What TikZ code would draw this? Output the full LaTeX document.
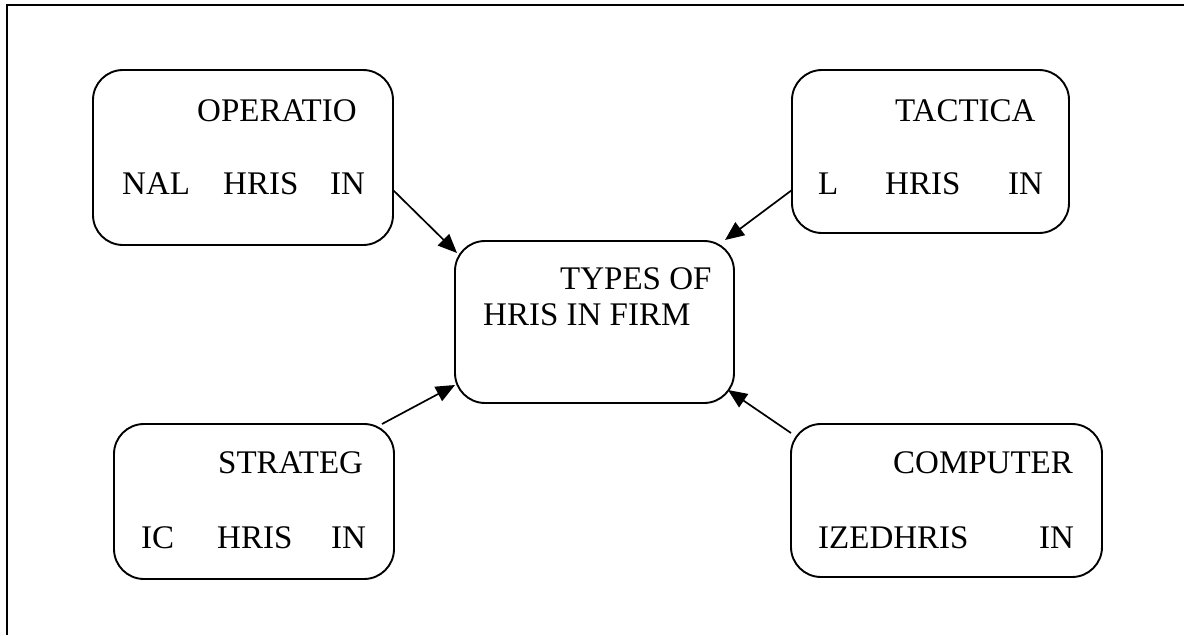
\documentclass[tikz,border=0pt]{standalone}
\usepackage{fontspec}
\setmainfont{Liberation Serif}
\usetikzlibrary{arrows.meta,calc}
\tikzset{
  hbox/.style={draw, line width=1.9pt, rounded corners=30pt, inner sep=0pt, outer sep=0pt},
  word/.style={anchor=base west, inner sep=0pt, font=\fontsize{33}{39}\selectfont},
  link/.style={line width=1.7pt, -{Triangle[length=19pt,width=16pt]}},
  frame/.style={line width=2.2pt}
}
\begin{document}
\begin{tikzpicture}[x=1pt,y=-1pt]
\useasboundingbox (0,0) rectangle (1184,635);

% page frame: top and left rules only
\coordinate (ftr) at (1184,5);
\coordinate (ftl) at (7,5);
\coordinate (fbl) at (7,635);
\draw[frame] (ftr) -- (ftl) -- (fbl);

% boxes
\node[hbox, minimum width=300pt, minimum height=175pt] (op)  at (243,157.5) {};
\node[hbox, minimum width=277pt, minimum height=163pt] (tac) at (930.5,151.5) {};
\node[hbox, minimum width=279pt, minimum height=162pt] (ctr) at (594.5,322) {};
\node[hbox, minimum width=280pt, minimum height=155pt] (str) at (254,501.5) {};
\node[hbox, minimum width=311pt, minimum height=153pt] (cmp) at (946.5,500.5) {};

% box texts
\node[word] (op1) at (197,121) {OPERATIO};
\node[word] (op2) at (122,194) {NAL};
\node[word] (op3) at (223,194) {HRIS};
\node[word] (op4) at (330,194) {IN};

\node[word] (tac1) at (895,121) {TACTICA};
\node[word] (tac2) at (818,194) {L};
\node[word] (tac3) at (885,194) {HRIS};
\node[word] (tac4) at (1008,194) {IN};

\node[word] (ctr1) at (560,289) {TYPES OF};
\node[word] (ctr2) at (483,325) {HRIS IN FIRM};

\node[word] (str1) at (218,473) {STRATEG};
\node[word] (str2) at (141,548) {IC};
\node[word] (str3) at (217,548) {HRIS};
\node[word] (str4) at (331,548) {IN};

\node[word] (cmp1) at (893,473) {COMPUTER};
\node[word] (cmp2) at (818,548) {IZEDHRIS};
\node[word] (cmp3) at (1039,548) {IN};

% connectors into the central box
\draw[link] ($(op.east)+(0,32.5)$) -- ($(ctr.north west)+(2,12)$);
\draw[link] ($(tac.west)+(0,38.5)$) -- ($(ctr.north east)+(-9,-1)$);
\draw[link] ($(str.north east)+(-12,0)$) -- ($(ctr.south west)+(0,-18)$);
\draw[link] ($(cmp.north west)+(0,9)$) -- ($(ctr.south east)+(-6,-13)$);
\end{tikzpicture}
\end{document}
